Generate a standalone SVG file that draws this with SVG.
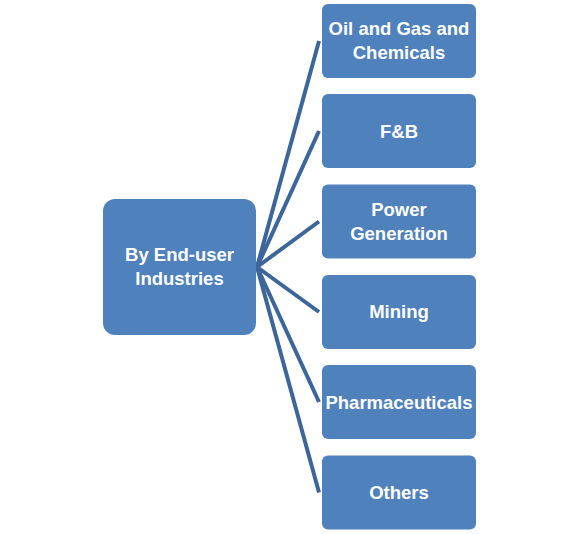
<svg xmlns="http://www.w3.org/2000/svg" width="578" height="534" viewBox="0 0 578 534">
<style>
.node{fill:#4F81BD;}
.t{fill:#FFFFFF;font-family:"Liberation Sans",Arial,sans-serif;font-weight:bold;font-size:18.5px;text-anchor:middle;}
.c{stroke:#3C6599;stroke-width:4;fill:none;stroke-linecap:butt;}
</style>
<rect width="578" height="534" fill="#FFFFFF"/>
<g id="connectors">
<line class="c" x1="257" y1="267" x2="319" y2="41"/>
<line class="c" x1="257" y1="267" x2="319" y2="131"/>
<line class="c" x1="257" y1="267" x2="319" y2="221.5"/>
<line class="c" x1="257" y1="267" x2="319" y2="312"/>
<line class="c" x1="257" y1="267" x2="319" y2="402"/>
<line class="c" x1="257" y1="267" x2="319" y2="492.5"/>
</g>
<g id="root">
<rect class="node" x="103" y="199" width="153" height="136" rx="12"/>
<text class="t" x="179.5" y="261">By End-user</text>
<text class="t" x="179.5" y="285">Industries</text>
</g>
<g id="n1">
<rect class="node" x="322" y="4" width="154" height="74" rx="6"/>
<text class="t" x="399" y="35">Oil and Gas and</text>
<text class="t" x="399" y="59">Chemicals</text>
</g>
<g id="n2">
<rect class="node" x="322" y="94" width="154" height="74" rx="6"/>
<text class="t" x="399" y="137.5">F&amp;B</text>
</g>
<g id="n3">
<rect class="node" x="322" y="184.5" width="154" height="74" rx="6"/>
<text class="t" x="399" y="216">Power</text>
<text class="t" x="399" y="240">Generation</text>
</g>
<g id="n4">
<rect class="node" x="322" y="275" width="154" height="74" rx="6"/>
<text class="t" x="399" y="318">Mining</text>
</g>
<g id="n5">
<rect class="node" x="322" y="365" width="154" height="74" rx="6"/>
<text class="t" x="399" y="408.5">Pharmaceuticals</text>
</g>
<g id="n6">
<rect class="node" x="322" y="455.5" width="154" height="74" rx="6"/>
<text class="t" x="399" y="498.5">Others</text>
</g>
</svg>
